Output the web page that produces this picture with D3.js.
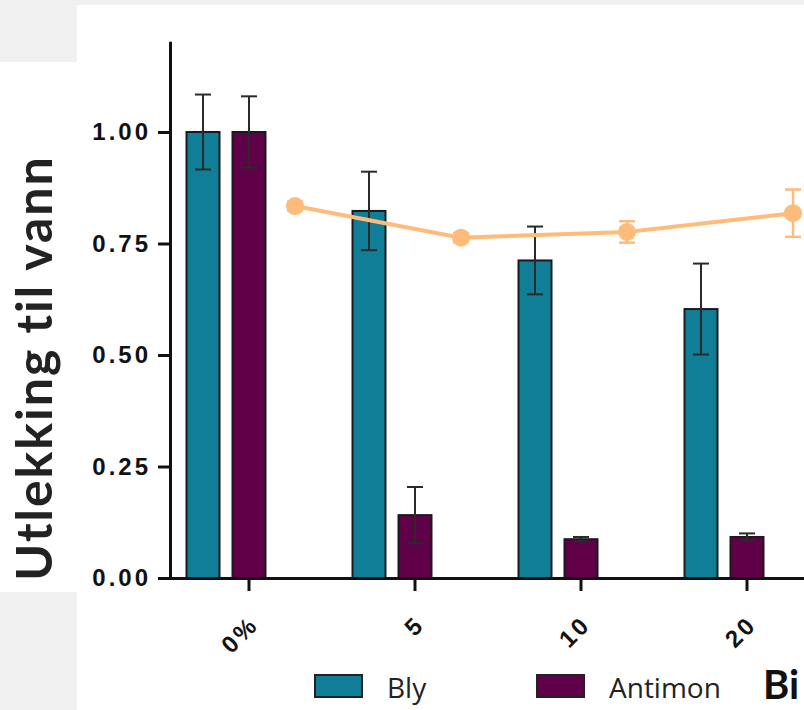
<!DOCTYPE html>
<html>
<head>
<meta charset="utf-8">
<script src="https://cdn.jsdelivr.net/npm/d3@7"></script>
<style>
  html, body { margin: 0; padding: 0; background: #f0f0f0; }
  svg { display: block; }
</style>
</head>
<body>
<svg id="chart" width="804" height="710"></svg>
<script>
// ---- data ----
const categories = ["0%", "5", "10", "20"];
const seriesNames = ["Bly", "Antimon"];
const blyMean = [1.00, 0.823, 0.712, 0.603];
const blyErr = [0.084, 0.088, 0.076, 0.102];
const antimonMean = [1.00, 0.141, 0.087, 0.092];
const antimonErr = [0.080, 0.063, 0.005, 0.008];
const lineMean = [0.834, 0.763, 0.776, 0.818];
const lineErr = [0.01, 0.01, 0.024, 0.053];
const yTicks = [0, 0.25, 0.5, 0.75, 1.0];
const yTitle = "Utlekking til vann";
const xTitle = "Bi";

const colors = { Bly: "#117e98", Antimon: "#5f0049", line: "#ffbb7a" };

const svg = d3.select("#chart");

// background panels
svg.append("rect").attr("x", 77).attr("y", 5).attr("width", 727).attr("height", 705).attr("fill", "#fff");
svg.append("rect").attr("x", 0).attr("y", 62).attr("width", 78).attr("height", 530).attr("fill", "#fff");

// scales
const y = d3.scaleLinear().domain([0, 1.2]).range([578, 578 - 1.2 * 446]);
const x = d3.scaleBand().domain(categories).range([166, 166 + 166 * categories.length]).padding(0);
const inner = d3.scaleBand().domain(["Bly", "Antimon", "line"]).range([-69, 69]).padding(0);
const barW = 33;
const cx = (cat, s) => x(cat) + x.bandwidth() / 2 + inner(s) + inner.bandwidth() / 2;

const rows = categories.map((c, i) => ({
  cat: c,
  Bly: { m: blyMean[i], e: blyErr[i] },
  Antimon: { m: antimonMean[i], e: antimonErr[i] },
  line: { m: lineMean[i], e: lineErr[i] }
}));

// bars
const barData = [];
rows.forEach(r => seriesNames.forEach(s => barData.push({ cat: r.cat, s, m: r[s].m, e: r[s].e })));

svg.append("g").selectAll("rect").data(barData).join("rect")
  .attr("x", d => cx(d.cat, d.s) - barW / 2)
  .attr("y", d => y(d.m))
  .attr("width", barW)
  .attr("height", d => y(0) - y(d.m))
  .attr("fill", d => colors[d.s])
  .attr("stroke", "#1a1a1a")
  .attr("stroke-width", 2);

// bar error bars
const eg = svg.append("g").attr("stroke", "#2a2a2a").attr("stroke-width", 2);
barData.forEach(d => {
  const xc = cx(d.cat, d.s);
  eg.append("line").attr("x1", xc).attr("x2", xc).attr("y1", y(d.m + d.e)).attr("y2", y(d.m - d.e));
  eg.append("line").attr("x1", xc - 8).attr("x2", xc + 8).attr("y1", y(d.m + d.e)).attr("y2", y(d.m + d.e));
  eg.append("line").attr("x1", xc - 8).attr("x2", xc + 8).attr("y1", y(d.m - d.e)).attr("y2", y(d.m - d.e));
});

// orange line series
const lg = svg.append("g");
lg.append("path")
  .datum(rows)
  .attr("fill", "none")
  .attr("stroke", colors.line)
  .attr("stroke-width", 4)
  .attr("d", d3.line().x(r => cx(r.cat, "line")).y(r => y(r.line.m)));
rows.forEach(r => {
  const xc = cx(r.cat, "line");
  const g = lg.append("g").attr("stroke", colors.line).attr("stroke-width", 2.5);
  g.append("line").attr("x1", xc).attr("x2", xc).attr("y1", y(r.line.m + r.line.e)).attr("y2", y(r.line.m - r.line.e));
  g.append("line").attr("x1", xc - 8).attr("x2", xc + 8).attr("y1", y(r.line.m + r.line.e)).attr("y2", y(r.line.m + r.line.e));
  g.append("line").attr("x1", xc - 8).attr("x2", xc + 8).attr("y1", y(r.line.m - r.line.e)).attr("y2", y(r.line.m - r.line.e));
  lg.append("circle").attr("cx", xc).attr("cy", y(r.line.m)).attr("r", 9).attr("fill", colors.line);
});

const tickFont = sel => sel
  .attr("fill", "#111")
  .style("font-family", "'Liberation Sans', Arial, sans-serif")
  .style("font-weight", "bold")
  .style("font-size", "24px")
  .style("letter-spacing", "3px");

// y axis
const yAxis = svg.append("g").attr("transform", "translate(170,0)")
  .call(d3.axisLeft(y).tickValues(yTicks).tickFormat(d3.format(".2f")).tickSize(12).tickSizeOuter(0).tickPadding(7));
yAxis.select(".domain").attr("stroke", "#111").attr("stroke-width", 3).attr("stroke-linecap", "square");
yAxis.selectAll(".tick line").attr("stroke", "#111").attr("stroke-width", 3);
yAxis.selectAll(".tick text").call(tickFont);

// x axis
const xAxis = svg.append("g").attr("transform", "translate(0,578)")
  .call(d3.axisBottom(x).tickSize(13).tickSizeOuter(0));
xAxis.select(".domain").attr("stroke", "#111").attr("stroke-width", 3);
xAxis.selectAll(".tick line").attr("stroke", "#111").attr("stroke-width", 3);
xAxis.selectAll(".tick text")
  .attr("text-anchor", "end")
  .attr("dy", null)
  .attr("y", 0)
  .attr("transform", "translate(11,48) rotate(-45)")
  .call(tickFont);

// y title
svg.append("text")
  .attr("transform", "translate(52,368) rotate(-90)")
  .attr("text-anchor", "middle")
  .attr("fill", "#222")
  .style("font-family", "Lato, sans-serif")
  .style("font-weight", "bold")
  .style("font-size", "50px")
  .style("letter-spacing", "2px")
  .text(yTitle);

// legend
const legendX = [315, 537];
seriesNames.forEach((s, i) => {
  svg.append("rect").attr("x", legendX[i]).attr("y", 675).attr("width", 47).attr("height", 22)
    .attr("fill", colors[s]).attr("stroke", "#222").attr("stroke-width", 2);
  svg.append("text").attr("x", legendX[i] + 72).attr("y", 698)
    .attr("fill", "#222")
    .style("font-family", "'Open Sans', sans-serif")
    .style("font-size", "28px")
    .text(s);
});

// x title (only its start is visible in the reference)
svg.append("text").attr("x", 763).attr("y", 699)
  .attr("fill", "#111")
  .style("font-family", "Lato, sans-serif")
  .style("font-weight", "bold")
  .style("font-size", "40px")
  .text(xTitle);
</script>
</body>
</html>
